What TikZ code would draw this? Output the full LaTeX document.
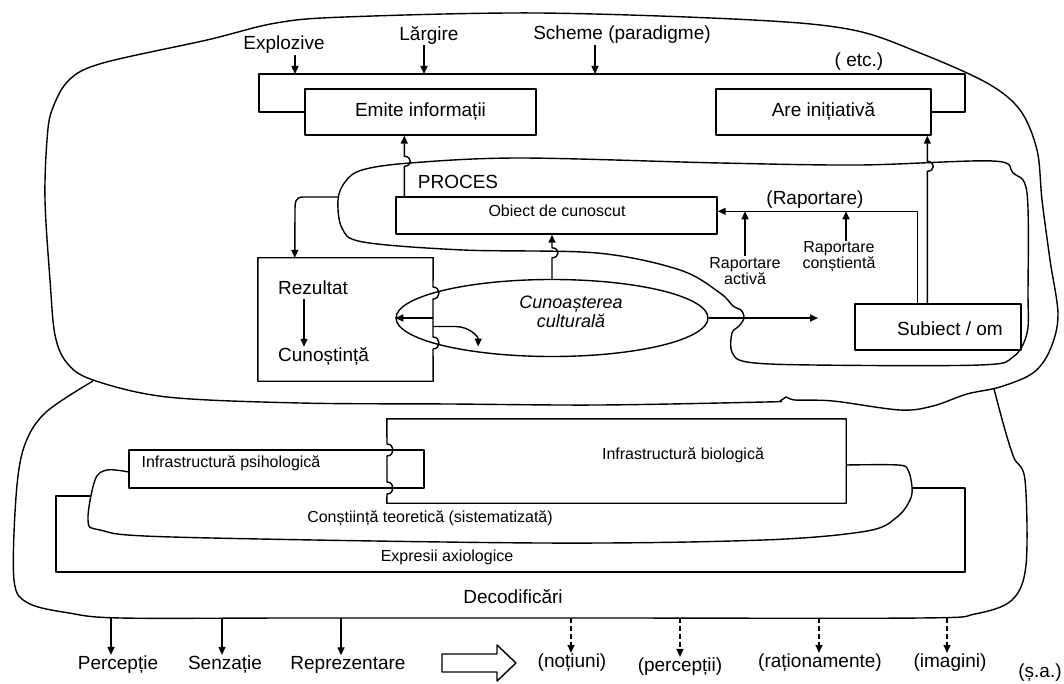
\documentclass[tikz,border=0pt]{standalone}
\usepackage{fontspec}
\setmainfont{Liberation Sans}
\usetikzlibrary{arrows.meta,shapes.geometric,calc}
\begin{document}
\begin{tikzpicture}[x=1pt,y=-1pt,
  ln/.style={line width=1.4pt, line join=round},
  arr/.style={ln, -{Triangle[length=8pt,width=7pt]}},
  darr/.style={arr, dash pattern=on 5pt off 3pt},
  box/.style={draw, ln, inner sep=0pt},
  big/.style={font=\fontsize{19}{21}\selectfont, inner sep=1pt},
  small/.style={font=\fontsize{16}{16}\selectfont, inner sep=1pt, align=center}]
\useasboundingbox (0,0) rectangle (1064,684);

% ---------- free-form outlines ----------
\draw[ln] plot[smooth cycle, tension=0.55] coordinates {(93,380) (67,363) (55,335) (50,280) (45,200) (47,140) (52,110) (69,80) (103,63) (207,40) (276,23) (345,17) (538,13) (753,20) (853,30) (920,53) (987,83) (1020,110) (1037,150) (1042,200) (1050,260) (1058,315) (1050,350) (1033,373) (1000,387) (967,394) (933,406) (900,410) (833,401) (795,400) (786,397) (780,401) (765,402) (600,405) (450,404) (300,403) (167,397)};

\draw[ln] plot[smooth, tension=0.55] coordinates {(93,381) (45,413) (24,447) (16,497) (14,580) (28,603) (69,613) (121,618) (300,618) (600,618) (920,618) (975,614) (1012,600) (1026,565) (1025,480) (1014,458) (1005,430) (994,389)};

\draw[ln] plot[smooth cycle, tension=0.55] coordinates {(338,200) (342,228) (363,242) (463,250) (597,253) (680,270) (720,293) (733,306) (741,310) (744,318) (739,326) (732,333) (732,352) (747,362) (813,365) (980,365) (1013,357) (1027,333) (1028,293) (1027,193) (1013,173) (993,161) (860,165) (720,163) (520,158) (410,163) (362,170) (345,182)};

% ---------- top frame and boxes ----------
\node[box, big, minimum width=231pt, minimum height=46pt] (emite) at (420.5,112) {Emite informații};
\node[box, big, minimum width=215pt, minimum height=46pt] (are) at (823.5,112) {Are inițiativă};
\draw[ln] (emite.west) -- (259,112) -- (259,74) -- (965,74) -- (965,112) -- (are.east);

\coordinate (ft) at (0,74);
\node[big] (explo) at (284,45) {Explozive};
\draw[arr] ($(explo.south)+(11,0)$) coordinate (x1) -- (x1 |- ft);
\node[big] (larg) at (429,35) {Lărgire};
\draw[arr] ($(larg.south)+(-5,0)$) coordinate (x2) -- (x2 |- ft);
\node[big] (sch) at (622,35) {Scheme (paradigme)};
\draw[arr] ($(sch.south)+(-27,0)$) coordinate (x3) -- (x3 |- ft);
\node[big] (etc) at (859,62) {( etc.)};

% ---------- process part ----------
\node[big] (proc) at (458,182) {PROCES};
\node[box, minimum width=321pt, minimum height=37pt] (obiect) at (556.5,215.5) {};
\node[small] (obt) at (557,211) {Obiect de cunoscut};

\node[box, minimum width=166pt, minimum height=46pt] (subj) at (938,327) {};
\node[big] (subt) at (950,329) {Subiect / om};

\node[draw, ln, ellipse, minimum width=312pt, minimum height=77pt, inner sep=0pt] (cult) at (552,318) {};
\node[small, font=\fontsize{18}{19}\selectfont\itshape] (cultt) at (571,312) {Cunoașterea\\culturală};

\node[minimum width=175pt, minimum height=123pt, inner sep=0pt] (rez) at (345.5,319.5) {};
\draw[ln] (rez.north east) -- (433,287) .. controls (441,287) and (441,299) .. (433,299)
  -- (433,337) .. controls (441,337) and (441,349) .. (433,349)
  -- (rez.south east) -- (rez.south west) -- (rez.north west) -- cycle;
\node[big, anchor=west] (rezt) at (277,288) {Rezultat};
\node[big, anchor=west] (cunt) at (277,357) {Cunoștință};
\draw[arr] ($(rezt.south west)+(27,3)$) coordinate (rc1) -- (rc1 |- cunt.north);

% arrows of process part
\draw[arr] ($(obiect.north west)+(9,0)$) coordinate (ea) -- ++(0,-30) .. controls +(8,0) and +(8,0) .. ++(0,-10) -- (ea |- emite.south);
\draw[arr] ($(subj.north west)+(73,0)$) coordinate (aa) -- ++(0,-132) .. controls +(8,0) and +(8,0) .. ++(0,-10) -- (aa |- are.south);
\draw[arr] ($(subj.north west)+(63,0)$) coordinate (ra) -- ++(0,-92) coordinate (rj) -- (rj -| obiect.east);
\node[big] (rapt) at (815,200) {(Raportare)};
\node[small] (ract) at (745,271) {Raportare\\activă};
\node[small] (rcon) at (839,257) {Raportare\\conștientă};
\draw[arr] (ract.north) -- (ract.north |- rj);
\draw[arr] ($(rcon.north)+(7,0)$) coordinate (rc) -- (rc |- rj);

\draw[arr] (cult.north) -- ++(0,-21) .. controls +(8,0) and +(8,0) .. ++(0,-10) -- (cult.north |- obiect.south);
\coordinate (cr) at (818,318);
\draw[arr] (cult.east) -- (cr);
\draw[arr] (rez.east |- cult.west) -- (cult.west);
\draw[arr] ($(rez.east)+(0,7)$) -- ++(22,0) .. controls +(14,0) and +(0,-10) .. ++(23,20);
\coordinate (pl) at (338,197);
\draw[arr] (pl) -- ++(-35,0) .. controls +(-8,0) and +(0,-6) .. ++(-8,12) -- ($(rez.north west)+(37,0)$);

% ---------- lower part ----------
\draw[ln] (90,496) -- (56,496) -- (56,572) -- (965,572) -- (965,488) -- (912,488);
\node[box, minimum width=295pt, minimum height=38pt] (psi) at (276.5,469) {};
\node[small] (psit) at (231,463) {Infrastructură psihologică};
\node[minimum width=459pt, minimum height=84pt, inner sep=0pt] (bio) at (616.5,461) {};
\draw[ln] (bio.south west) -- (387,494) .. controls (395,494) and (395,482) .. (387,482)
  -- (387,456) .. controls (395,456) and (395,444) .. (387,444)
  -- (bio.north west) -- (bio.north east) -- (bio.south east) -- cycle;
\node[small] (biot) at (683,455) {Infrastructură biologică};
\draw[ln] plot[smooth, tension=0.55] coordinates {(129,472) (107,470) (95,480) (88,520) (100,530) (172,537) (541,543) (763,540) (867,531) (897,517) (910,500) (912,487) (908,470) (898,465) (846,465)};
\node[small] (const) at (430,518) {Conștiință teoretică (sistematizată)};
\node[small] (expt) at (447,557) {Expresii axiologice};
\node[big] (dec) at (513,597) {Decodificări};

% ---------- bottom row ----------
\node[big] (perc) at (118,665) {Percepție};
\node[big] (senz) at (225,665) {Senzație};
\node[big] (repr) at (348,665) {Reprezentare};
\coordinate (b1) at (111,618);
\coordinate (b2) at (222,618);
\coordinate (b3) at (341,618);
\draw[arr] (b1) -- (b1 |- perc.north);
\draw[arr] (b2) -- (b2 |- senz.north);
\draw[arr] (b3) -- (b3 |- repr.north);

\draw[ln] (442,654) -- (497,654) -- (497,645) -- (516,663) -- (497,681) -- (497,672) -- (442,672) -- cycle;

\node[big] (noti) at (572,663) {(noțiuni)};
\node[big] (percp) at (680,667) {(percepții)};
\node[big] (rat) at (820,663) {(raționamente)};
\node[big] (imag) at (950,663) {(imagini)};
\node[big] (sa) at (1040,673) {(ș.a.)};
\coordinate (d1) at (571,618);
\coordinate (d2) at (680,618);
\coordinate (d3) at (819,618);
\coordinate (d4) at (947,618);
\draw[darr] (d1) -- (d1 |- noti.north);
\draw[darr] (d2) -- (d2 |- percp.north);
\draw[darr] (d3) -- (d3 |- rat.north);
\draw[darr] (d4) -- (d4 |- imag.north);
\end{tikzpicture}
\end{document}
